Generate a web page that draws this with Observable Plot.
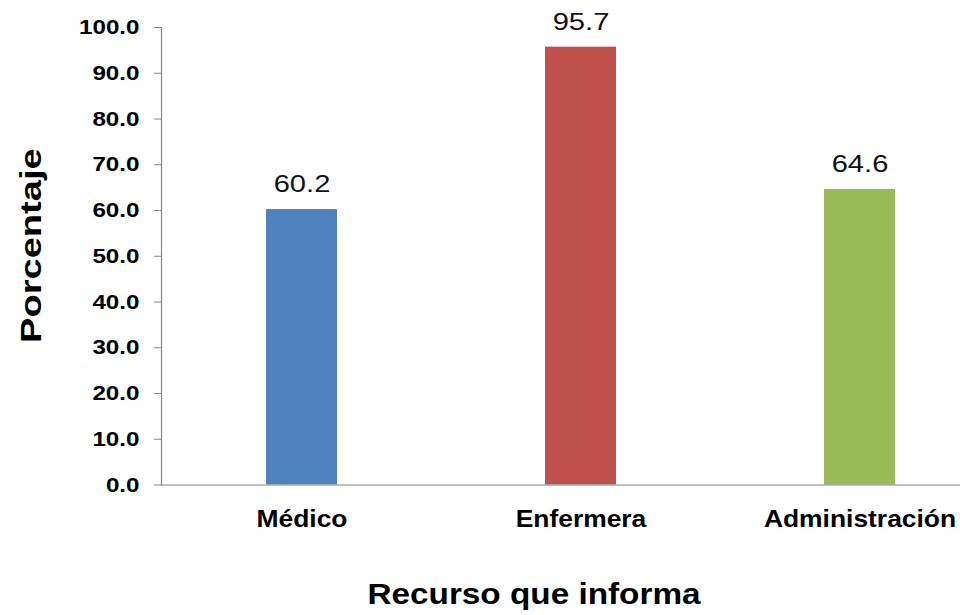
<!DOCTYPE html>
<html>
<head>
<meta charset="utf-8">
<script src="https://cdn.jsdelivr.net/npm/d3@7"></script>
<script src="https://cdn.jsdelivr.net/npm/@observablehq/plot@0.6"></script>
<style>
  html, body { margin: 0; padding: 0; background: #fff; }
  #chart { width: 960px; height: 615px; overflow: hidden; }
</style>
</head>
<body>
<div id="chart"></div>
<script>
// Who reports: share of each staff group (%)
const categories = ["Médico", "Enfermera", "Administración"];
const values = [60.2, 95.7, 64.6];
const barColors = ["#4F81BD", "#C0504D", "#9BBB59"];
const yTicks = [0, 10, 20, 30, 40, 50, 60, 70, 80, 90, 100];
const xTitle = "Recurso que informa";
const yTitle = "Porcentaje";

const rows = categories.map((c, i) => ({category: c, value: values[i], color: barColors[i]}));

const axisGray = "#868686";

const chart = Plot.plot({
  width: 960,
  height: 615,
  marginTop: 27,
  marginLeft: 161,
  marginRight: 0,
  marginBottom: 130.5,
  style: {fontFamily: "'Liberation Sans', Arial, sans-serif", background: "white", color: "black"},
  x: {type: "band", domain: categories, range: [161.5, 999.5], paddingInner: 0.746, paddingOuter: 0.373, align: 0.5},
  y: {domain: [0, 100]},
  color: {type: "identity"},
  marks: [
    Plot.barY(rows, {x: "category", y: "value", fill: "color"}),
    Plot.ruleY([0], {stroke: axisGray, strokeWidth: 1.2}),
    Plot.frame({anchor: "left", stroke: axisGray, strokeWidth: 1.2}),
    Plot.axisY({
      ticks: yTicks,
      tickFormat: d => d.toFixed(1),
      tickSize: 7,
      tickPadding: 15,
      fontSize: 20.5,
      fontWeight: "bold",
      stroke: axisGray,
      fill: "black",
      label: null
    }),
    Plot.axisX({
      tickSize: 0,
      tickPadding: 25,
      fontSize: 24,
      fontWeight: "bold",
      fill: "black",
      label: null
    }),
    Plot.text(rows, {
      x: "category",
      y: "value",
      text: d => d.value.toFixed(1),
      lineAnchor: "middle",
      dy: -24.7,
      fontSize: 23.5,
      fill: "#111"
    }),
    Plot.text([xTitle], {
      frameAnchor: "bottom",
      textAnchor: "middle",
      lineAnchor: "middle",
      dx: -27,
      dy: 109,
      fontSize: 30,
      fontWeight: "bold",
      fill: "black"
    }),
    Plot.text([yTitle], {
      frameAnchor: "left",
      textAnchor: "middle",
      lineAnchor: "middle",
      rotate: -90,
      dx: -130,
      dy: -10.6,
      fontSize: 29.5,
      fontWeight: "bold",
      fill: "black"
    })
  ]
});

document.getElementById("chart").appendChild(chart);

// The labels are set in a slightly widened face; stretch each run along its baseline.
function widen(selection, k) {
  selection.each(function () {
    const len = this.getComputedTextLength();
    if (len > 0) {
      this.setAttribute("textLength", (len * k).toFixed(1));
      this.setAttribute("lengthAdjust", "spacingAndGlyphs");
    }
  });
}
const svg = d3.select(chart);
widen(svg.selectAll('g[aria-label="y-axis tick label"] text'), 1.18);
widen(svg.selectAll('g[aria-label="x-axis tick label"] text'), 1.1);
const textGroups = svg.selectAll('g[aria-label="text"]').nodes();
widen(d3.select(textGroups[0]).selectAll("text"), 1.24);
widen(d3.select(textGroups[1]).selectAll("text"), 1.11);
widen(d3.select(textGroups[2]).selectAll("text"), 1.29);
</script>
</body>
</html>
